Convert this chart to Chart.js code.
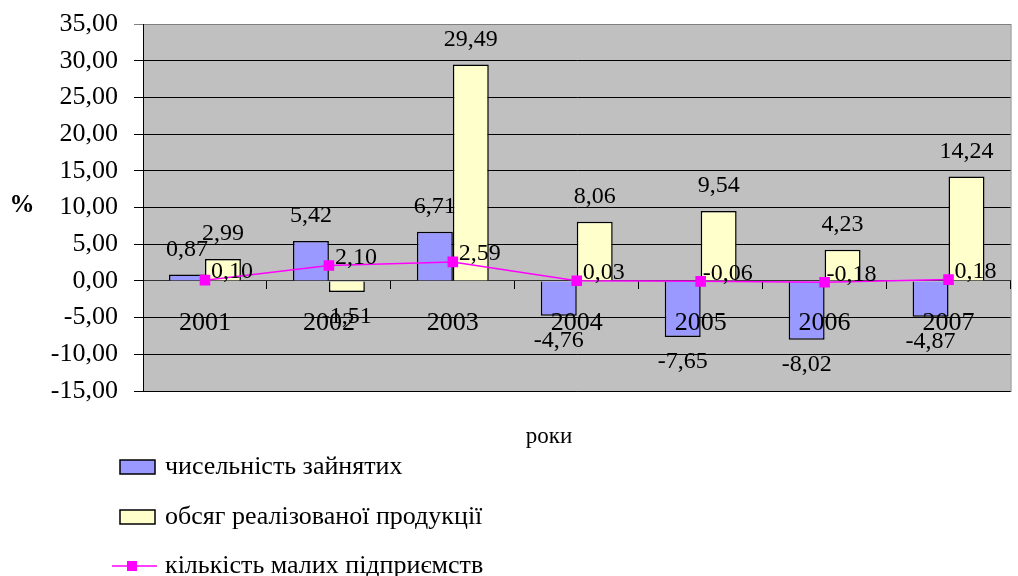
<!DOCTYPE html>
<html>
<head>
<meta charset="utf-8">
<script src="https://cdn.jsdelivr.net/npm/chart.js@4.4.1/dist/chart.umd.min.js"></script>
<style>
  body { margin: 0; background: #fff; }
  #wrap { width: 1018px; height: 576px; position: relative; }
</style>
</head>
<body>
<div id="wrap"><canvas id="chart"></canvas></div>
<script>
// data
var years = ['2001', '2002', '2003', '2004', '2005', '2006', '2007'];
var employed = [0.87, 5.42, 6.71, -4.76, -7.65, -8.02, -4.87];
var salesVolume = [2.99, -1.51, 29.49, 8.06, 9.54, 4.23, 14.24];
var smallFirms = [0.10, 2.10, 2.59, 0.03, -0.06, -0.18, 0.18];
var seriesNames = ['чисельність зайнятих', 'обсяг реалізованої продукції', 'кількість малих підприємств'];

var serif = '"Liberation Serif", "Times New Roman", serif';

function fmt(v) {
    return v.toFixed(2).replace('.', ',');
}

// grey plot area
var plotBg = {
    id: 'plotBg',
    beforeDraw: function (chart) {
	var a = chart.chartArea, ctx = chart.ctx;
	ctx.save();
	ctx.fillStyle = '#C0C0C0';
	ctx.fillRect(a.left, a.top, a.right - a.left, a.bottom - a.top);
	ctx.strokeStyle = '#808080';
	ctx.lineWidth = 1;
	ctx.strokeRect(a.left + 0.5, a.top + 0.5, a.right - a.left, a.bottom - a.top);
	ctx.restore();
    }
};

// value labels next to bars and points
var valueLabels = {
    id: 'valueLabels',
    afterDraw: function (chart) {
	var ctx = chart.ctx;
	ctx.save();
	ctx.font = '24px ' + serif;
	ctx.fillStyle = '#000';
	ctx.textAlign = 'center';
	ctx.textBaseline = 'middle';
	chart.data.datasets.forEach(function (ds, i) {
	    var meta = chart.getDatasetMeta(i);
	    meta.data.forEach(function (el, j) {
		var v = ds.data[j];
		if (ds.type === 'line') {
		    ctx.fillText(fmt(v), el.x + 27, el.y - 8);
		} else {
		    ctx.fillText(fmt(v), el.x, v >= 0 ? el.y - 25 : el.y + 25);
		}
	    });
	});
	ctx.restore();
    }
};

// axis titles and legend underneath
var extras = {
    id: 'extras',
    afterDraw: function (chart) {
	var ctx = chart.ctx, ds = chart.data.datasets;
	ctx.save();
	ctx.fillStyle = '#000';
	ctx.textBaseline = 'middle';
	ctx.textAlign = 'center';
	ctx.font = 'bold 25px ' + serif;
	ctx.fillText('%', 22, 206);
	ctx.font = '23px ' + serif;
	ctx.fillText('роки', 549, 437);

	ctx.textAlign = 'left';
	ctx.font = '26px ' + serif;
	var rows = [467, 517, 566];
	ds.forEach(function (d, i) {
	    var y = rows[i];
	    if (d.type === 'line') {
		ctx.strokeStyle = d.borderColor;
		ctx.lineWidth = 1.5;
		ctx.beginPath();
		ctx.moveTo(112, y);
		ctx.lineTo(157, y);
		ctx.stroke();
		ctx.fillStyle = d.backgroundColor;
		ctx.fillRect(127, y - 5, 10, 10);
	    } else {
		ctx.fillStyle = d.backgroundColor;
		ctx.fillRect(120, y - 7, 35, 14);
		ctx.strokeStyle = '#000';
		ctx.lineWidth = 1.5;
		ctx.strokeRect(120, y - 7, 35, 14);
	    }
	    ctx.fillStyle = '#000';
	    ctx.fillText(d.label, 165, y);
	});
	ctx.restore();
    }
};

new Chart(document.getElementById('chart'), {
    type: 'bar',
    data: {
	labels: years,
	datasets: [
	    {
		label: seriesNames[0],
		data: employed,
		backgroundColor: '#9999FF',
		borderColor: '#000',
		borderWidth: 1.5,
		order: 1
	    },
	    {
		label: seriesNames[1],
		data: salesVolume,
		backgroundColor: '#FFFFCC',
		borderColor: '#000',
		borderWidth: 1.5,
		order: 1
	    },
	    {
		type: 'line',
		label: seriesNames[2],
		data: smallFirms,
		borderColor: '#FF00FF',
		backgroundColor: '#FF00FF',
		borderWidth: 1.5,
		pointStyle: 'rect',
		pointRadius: 7.5,
		pointBorderWidth: 0,
		order: 0
	    }
	]
    },
    options: {
	responsive: true,
	maintainAspectRatio: false,
	animation: false,
	categoryPercentage: 0.58,
	barPercentage: 1.0,
	layout: { padding: { top: 24, right: 0, bottom: 185, left: 0 } },
	plugins: {
	    legend: { display: false },
	    tooltip: { enabled: false }
	},
	scales: {
	    x: {
		position: { y: 0 },
		offset: true,
		grid: {
		    offset: true,
		    drawOnChartArea: false,
		    color: '#000',
		    tickLength: 8
		},
		border: { color: '#333', width: 1 },
		ticks: {
		    z: 1,
		    padding: 19,
		    color: '#000',
		    font: { family: serif, size: 26 }
		}
	    },
	    y: {
		min: -15,
		max: 35,
		afterFit: function (scale) {
		    scale.width = 143;
		    scale.paddingTop = 0;
		    scale.paddingBottom = 0;
		},
		ticks: {
		    stepSize: 5,
		    padding: 16,
		    color: '#000',
		    font: { family: serif, size: 26 },
		    callback: function (v) { return fmt(v); }
		},
		grid: {
		    color: function (c) { return c.tick && c.tick.value === 35 ? '#808080' : '#000'; },
		    tickLength: 9
		},
		border: { color: '#000', width: 1 }
	    }
	}
    },
    plugins: [plotBg, valueLabels, extras]
});
</script>
</body>
</html>
